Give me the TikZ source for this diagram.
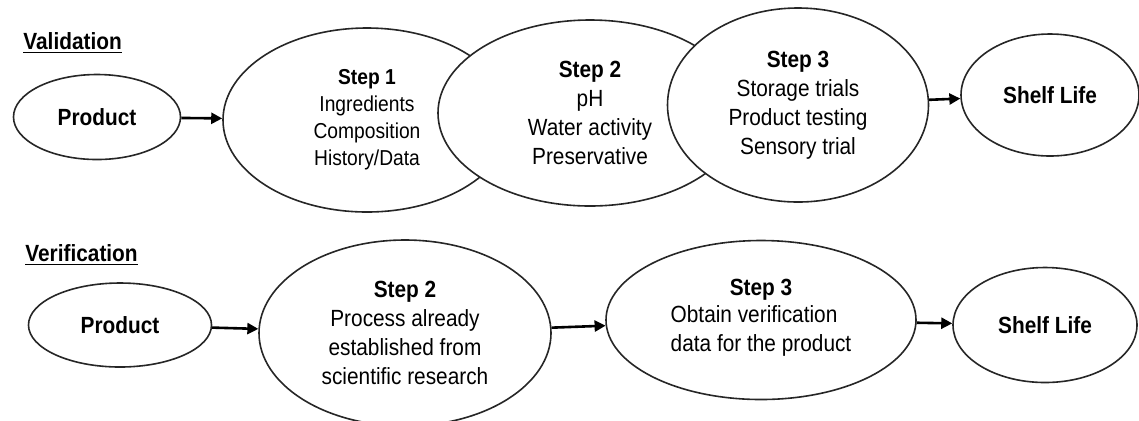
\documentclass[tikz,border=0pt]{standalone}
\usepackage{fontspec}
\setmainfont[FakeStretch=0.89]{Liberation Sans}
\usepackage{tikz}
\usetikzlibrary{arrows.meta, shapes.geometric}
\newcommand{\ovalsize}{\fontsize{11.7}{14.5}\selectfont}
\newcommand{\ovalsmall}{\fontsize{10.8}{13.5}\selectfont}
\tikzset{
  oval/.style={
    ellipse, draw=black!85, line width=0.8pt, fill=white,
    inner sep=0pt, align=center, font=\ovalsize
  },
  endpoint/.style={
    oval, font=\ovalsize\bfseries
  },
  heading/.style={
    anchor=west, inner sep=0pt, font=\ovalsize\bfseries
  },
  arrow/.style={-{Triangle[length=5.5pt,width=5.5pt]}, line width=1.3pt, draw=black}
}

\begin{document}
\begin{tikzpicture}[x=0.5pt, y=-0.5pt]
  \useasboundingbox (0,0) rectangle (1139,420);

  % validation row
  \node[heading] (vlab) at (23,43) {\underline{Validation}};
  \node[endpoint, minimum width=83.5pt, minimum height=42.5pt] (vprod) at (97,117) {Product};
  \node[oval, font=\ovalsmall, minimum width=144pt, minimum height=92pt] (vs1) at (367,120)
    {\textbf{Step 1}\\Ingredients\\Composition\\History/Data};
  \node[oval, minimum width=152pt, minimum height=93pt] (vs2) at (590,113)
    {\textbf{Step 2}\\pH\\Water activity\\Preservative};
  \node[oval, minimum width=130.5pt, minimum height=97pt] (vs3) at (798,105)
    {\textbf{Step 3}\\Storage trials\\Product testing\\Sensory trial};
  \node[endpoint, minimum width=89pt, minimum height=61pt] (vshelf) at (1050,95) {Shelf Life};

  \draw[arrow] (vprod) -- (vs1);
  \draw[arrow] (vs3) -- (vshelf);

  % verification row
  \node[heading] (flab) at (25,255) {\underline{Verification}};
  \node[endpoint, minimum width=91.5pt, minimum height=42pt] (fprod) at (120,325) {Product};
  \node[oval, minimum width=146pt, minimum height=93pt] (fs2) at (405,333)
    {\textbf{Step 2}\\Process already\\established from\\scientific research};
  \node[oval, minimum width=155pt, minimum height=79.5pt] (fs3) at (761,320)
    {\textbf{Step 3}\\\begin{tabular}{@{}l@{}}Obtain verification\\data for the product\end{tabular}};
  \node[endpoint, minimum width=92pt, minimum height=57.5pt] (fshelf) at (1045,325) {Shelf Life};

  \draw[arrow] (fprod) -- (fs2);
  \draw[arrow] (fs2) -- (fs3);
  \draw[arrow] (fs3) -- (fshelf);
\end{tikzpicture}
\end{document}
